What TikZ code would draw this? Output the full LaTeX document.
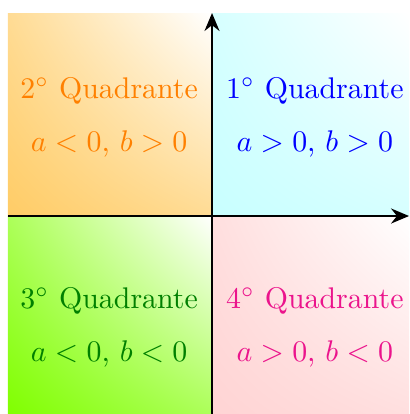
\documentclass[tikz,border=0pt]{standalone}
\usepackage{tikz}
\usetikzlibrary{arrows.meta, positioning, shadings}
\usepackage{xcolor}
\usepackage{amsmath}
\definecolor{qorange}{RGB}{255,204,102}
\definecolor{qcyan}{RGB}{200,255,255}
\definecolor{qlime}{RGB}{128,255,0}
\definecolor{qpink}{RGB}{255,212,212}
\definecolor{txtorange}{RGB}{255,128,0}
\definecolor{txtgreen}{RGB}{0,128,0}
\definecolor{txtpink}{RGB}{235,20,140}

\begin{document}
\begin{tikzpicture}[
    quad/.style={align=center},
    axis/.style={-{Stealth[length=6pt, width=5pt]}, line width=0.9pt}
]
    \useasboundingbox (-2.494,-2.329) rectangle (2.318,2.541);
    % shaded quadrants
    \shade[lower left=qorange, upper right=white, upper left=qorange!70, lower right=qorange!70]
        (-2.4,0) rectangle (0,2.388);
    \shade[lower left=qcyan, upper right=white, upper left=qcyan!75, lower right=qcyan!75]
        (0,0) rectangle (2.318,2.388);
    \shade[lower left=qlime, upper right=white, upper left=qlime!65, lower right=qlime!65]
        (-2.4,-2.329) rectangle (0,0);
    \shade[lower left=qpink, upper right=white, upper left=qpink!75, lower right=qpink!75]
        (0,-2.329) rectangle (2.318,0);
    \node[quad, text=txtorange] (q2) at (-1.21,1.16) {2$^\circ$ Quadrante\\[2mm] $a<0$, $b>0$};
    \node[quad, text=blue] (q1) at (1.21,1.16) {1$^\circ$ Quadrante\\[2mm] $a>0$, $b>0$};
    \node[quad, text=txtgreen] (q3) at (-1.21,-1.31) {3$^\circ$ Quadrante\\[2mm] $a<0$, $b<0$};
    \node[quad, text=txtpink] (q4) at (1.21,-1.31) {4$^\circ$ Quadrante\\[2mm] $a>0$, $b<0$};
    % axes
    \coordinate (xmin) at (-2.4,0);
    \coordinate (xmax) at (2.318,0);
    \coordinate (ymin) at (0,-2.329);
    \coordinate (ymax) at (0,2.388);
    \draw[axis] (xmin) -- (xmax);
    \draw[axis] (ymin) -- (ymax);
\end{tikzpicture}
\end{document}
